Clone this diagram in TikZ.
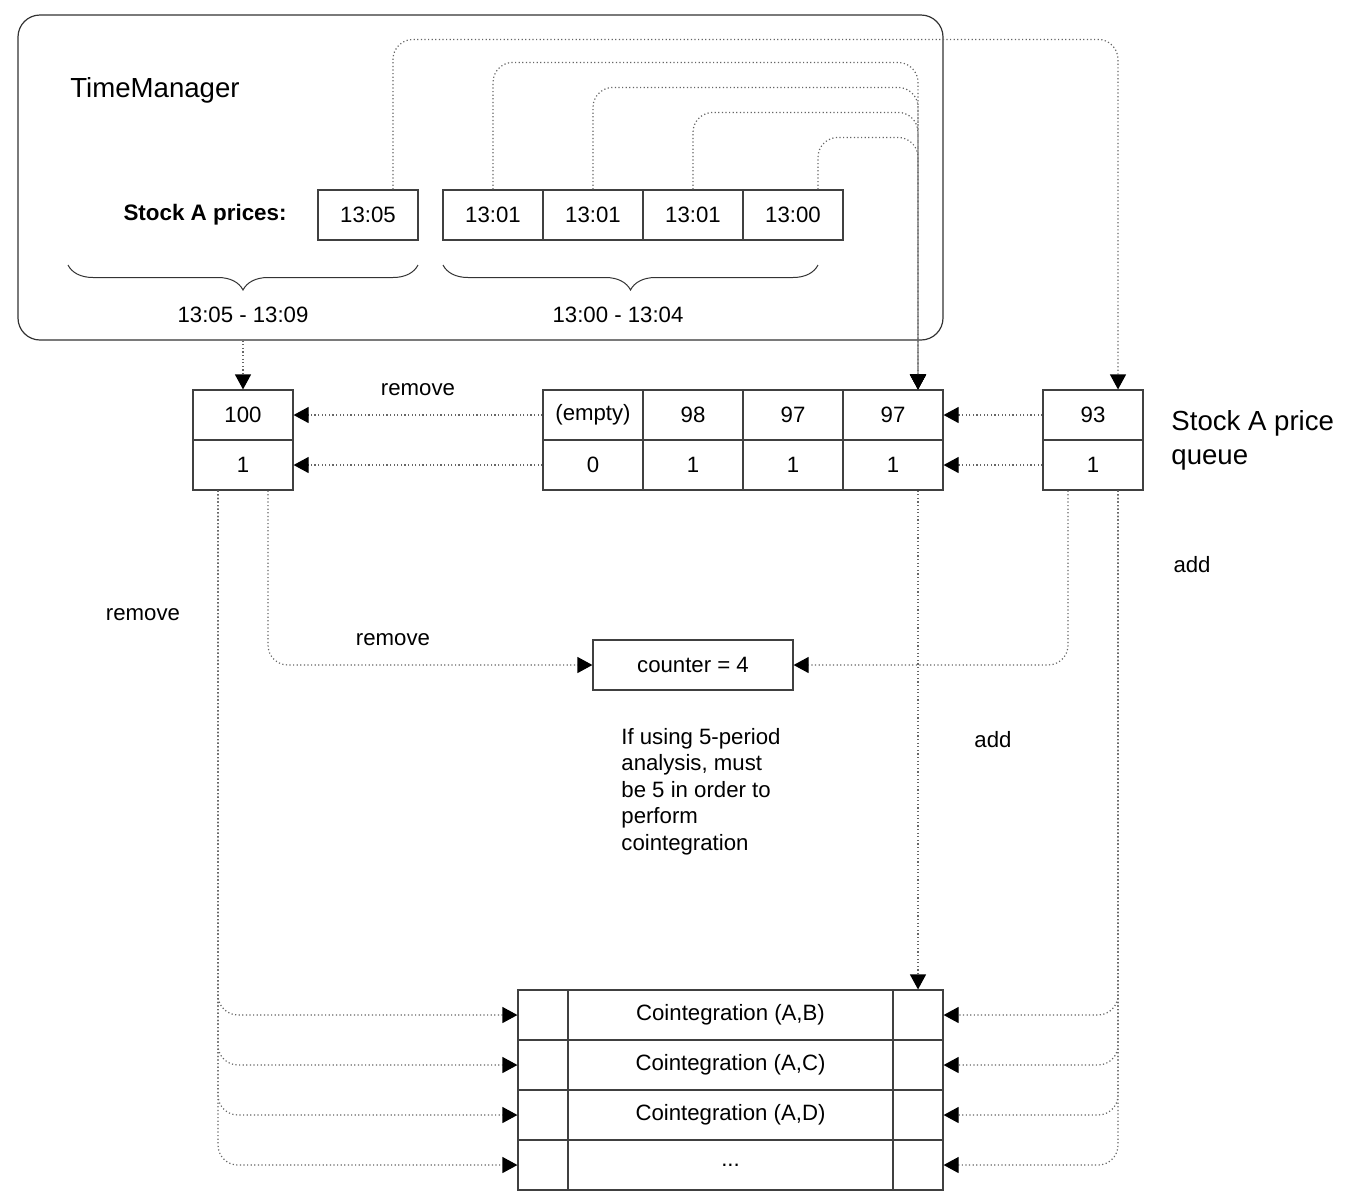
\documentclass[tikz,border=0pt]{standalone}
\usepackage{fontspec}
\setmainfont{Liberation Sans}
\usetikzlibrary{arrows.meta, positioning, calc, decorations.pathreplacing}

\begin{document}
\begin{tikzpicture}[
  x=0.5pt, y=-0.5pt,
  font=\fontsize{11.1}{13.2}\selectfont,
  cell/.style={rectangle, draw=black!75, line width=0.6pt, minimum width=50pt,
               minimum height=25pt, inner sep=0pt},
  big/.style={font=\fontsize{13.8}{17}\selectfont},
  lbl/.style={inner sep=0pt},
  feed/.style={draw=black!60, line width=0.6pt, dash pattern=on 0.6pt off 1.2pt,
               rounded corners=10pt},
  arr/.style={feed, -{Triangle[length=7.5pt, width=8pt, color=black]}},
  brc/.style={draw=black!80, line width=0.5pt, decorate,
              decoration={brace, mirror, amplitude=12.5pt}}
]
\useasboundingbox (0,0) rectangle (1353,1195);

% time manager
\node[draw=black!80, line width=0.6pt, rounded corners=11pt, minimum width=462.5pt,
      minimum height=162.5pt] (tm) at (480.5,177.5) {};
\node[big, lbl, anchor=west] (tmtitle) at (70,90) {TimeManager};
\node[lbl, anchor=east, font=\fontsize{11.2}{13}\selectfont\bfseries] (prices) at (287,215) {Stock A prices:};
\node[cell] (t0) at (368,215) {13:05};
\node[cell] (t1) at (493,215) {13:01};
\node[cell] (t2) at (593,215) {13:01};
\node[cell] (t3) at (693,215) {13:01};
\node[cell] (t4) at (793,215) {13:00};
\draw[brc] (68,265) -- (418,265);
\draw[brc] (443,265) -- (818,265);
\node (r1) at (243,315) {13:05 - 13:09};
\node (r2) at (618,315) {13:00 - 13:04};

% price queue
\node[cell] (v0) at (243,415) {100};
\node[cell] (c0) at (243,465) {1};
\node[cell] (q1) at (593,415) {(empty)};
\node[cell] (q2) at (693,415) {98};
\node[cell] (q3) at (793,415) {97};
\node[cell] (q4) at (893,415) {97};
\node[cell] (n1) at (593,465) {0};
\node[cell] (n2) at (693,465) {1};
\node[cell] (n3) at (793,465) {1};
\node[cell] (n4) at (893,465) {1};
\node[cell] (v5) at (1093,415) {93};
\node[cell] (c5) at (1093,465) {1};
\node[big, lbl, anchor=west, align=left] (qname) at (1171,440) {Stock A price\\queue};

\node[cell, minimum width=100pt] (cnt) at (693,665) {counter = 4};
\node[lbl, anchor=north west, align=left] (note) at (621,728)
  {If using 5-period\\analysis, must\\be 5 in order to\\perform\\cointegration};

% cointegration table
\foreach [evaluate=\i as \y using 965+50*\i] \i/\txt in
  {1/{Cointegration (A,B)}, 2/{Cointegration (A,C)}, 3/{Cointegration (A,D)}, 4/{...}} {
  \node[cell, minimum width=25pt] (la\i) at (543,\y) {};
  \node[cell, minimum width=162.5pt] (ma\i) at (730.5,\y) {\txt};
  \node[cell, minimum width=25pt] (ra\i) at (918,\y) {};
}

% labels
\node (rm1) at (418,390) {remove};
\node (rm2) at (143,615) {remove};
\node (rm3) at (393,640) {remove};
\node (ad1) at (1192,565) {add};
\node (ad2) at (993,740) {add};

% connectors
\draw[arr] ($(t0.north)+(25,0)$) -- ++(0,-150) -| ($(v5.north)+(25,0)$);
\foreach \c/\h/\dx in {t1/127/0, t2/102/0, t3/77/0, t4/52/25}
  \draw[arr] ($(\c.north)+(\dx,0)$) -- ++(0,-\h) -| ($(q4.north)+(25,0)$);
\draw[arr] (tm.south -| v0.north) -- (v0.north);
\draw[arr] (q1.west) -- (v0.east);
\draw[arr] (n1.west) -- (c0.east);
\draw[arr] (v5.west) -- (q4.east);
\draw[arr] (c5.west) -- (n4.east);
\draw[arr] ($(n4.south)+(25,0)$) -- (ra1.north);
\draw[arr] ($(c5.south)+(-25,0)$) |- (cnt.east);
\draw[arr] ($(c0.south)+(25,0)$) |- (cnt.west);
\foreach \i in {1,...,4} {
  \draw[arr] ($(c5.south)+(25,0)$) |- (ra\i.east);
  \draw[arr] ($(c0.south)+(-25,0)$) |- (la\i.west);
}
\end{tikzpicture}
\end{document}
